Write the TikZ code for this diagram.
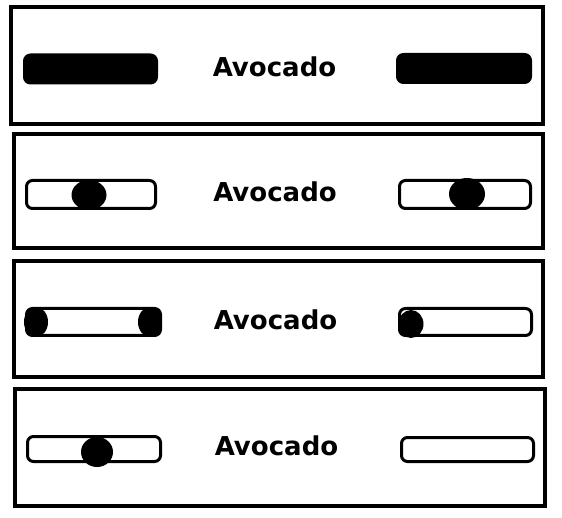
\documentclass[tikz,border=0pt]{standalone}
\usepackage{fontspec}
\setmainfont{DejaVu Sans}
\usetikzlibrary{shapes.geometric}

\begin{document}
\begin{tikzpicture}[x=1pt,y=-1pt,frame/.style={draw,line width=4pt},
cap/.style n args={2}{rectangle,draw,line width=3pt,minimum width=#1pt,minimum height=#2pt,rounded corners=6pt,inner sep=0pt},
capfull/.style n args={2}{cap={#1}{#2},fill=black},
dot/.style n args={2}{ellipse,fill=black,minimum width=#1pt,minimum height=#2pt,inner sep=0pt},
lbl/.style={anchor=base,font=\bfseries\fontsize{26}{30}\selectfont}]
\useasboundingbox (0,0) rectangle (562,518);
% panels
\foreach \i/\xa/\ya/\xb/\yb in %
{1/11/7/543/124,2/14/134/543/248,3/14/261/543/377,4/15/389/545/506} {
   \draw[frame] (\xa,\ya) rectangle (\xb,\yb);
}
% labels
\foreach \i/\x/\y in %
{1/274.5/77,2/275/202,3/275.5/330,4/276.5/455} {
   \node[lbl] (txt\i) at (\x,\y) {Avocado};
}
% row 1
\node[capfull={132}{28}] (left1) at (90.5,69) {};
\node[capfull={133}{28}] (right1) at (464,68.5) {};
% row 2
\node[cap={129}{28}] (left2) at (91,194.5) {};
\node[cap={131}{28}] (right2) at (465,194.5) {};
\node[dot={35}{30}] (dotl2) at (89,195) {};
\node[dot={36}{32}] (dotr2) at (467,194) {};
% row 3
\node[cap={134}{27}] (left3) at (93.5,322) {};
\node[cap={132}{27}] (right3) at (465.5,322) {};
\node[dot={24}{30}] (dotl3a) at (36,322) {};
\node[dot={24}{30}] (dotl3b) at (150,322) {};
\node[dot={25}{28}] (dotr3) at (411,324) {};
% row 4
\node[cap={133}{25}] (left4) at (94,449) {};
\node[cap={132}{24}] (right4) at (467.5,449.5) {};
\node[dot={32}{30}] (dotl4) at (97,452) {};
\end{tikzpicture}
\end{document}
